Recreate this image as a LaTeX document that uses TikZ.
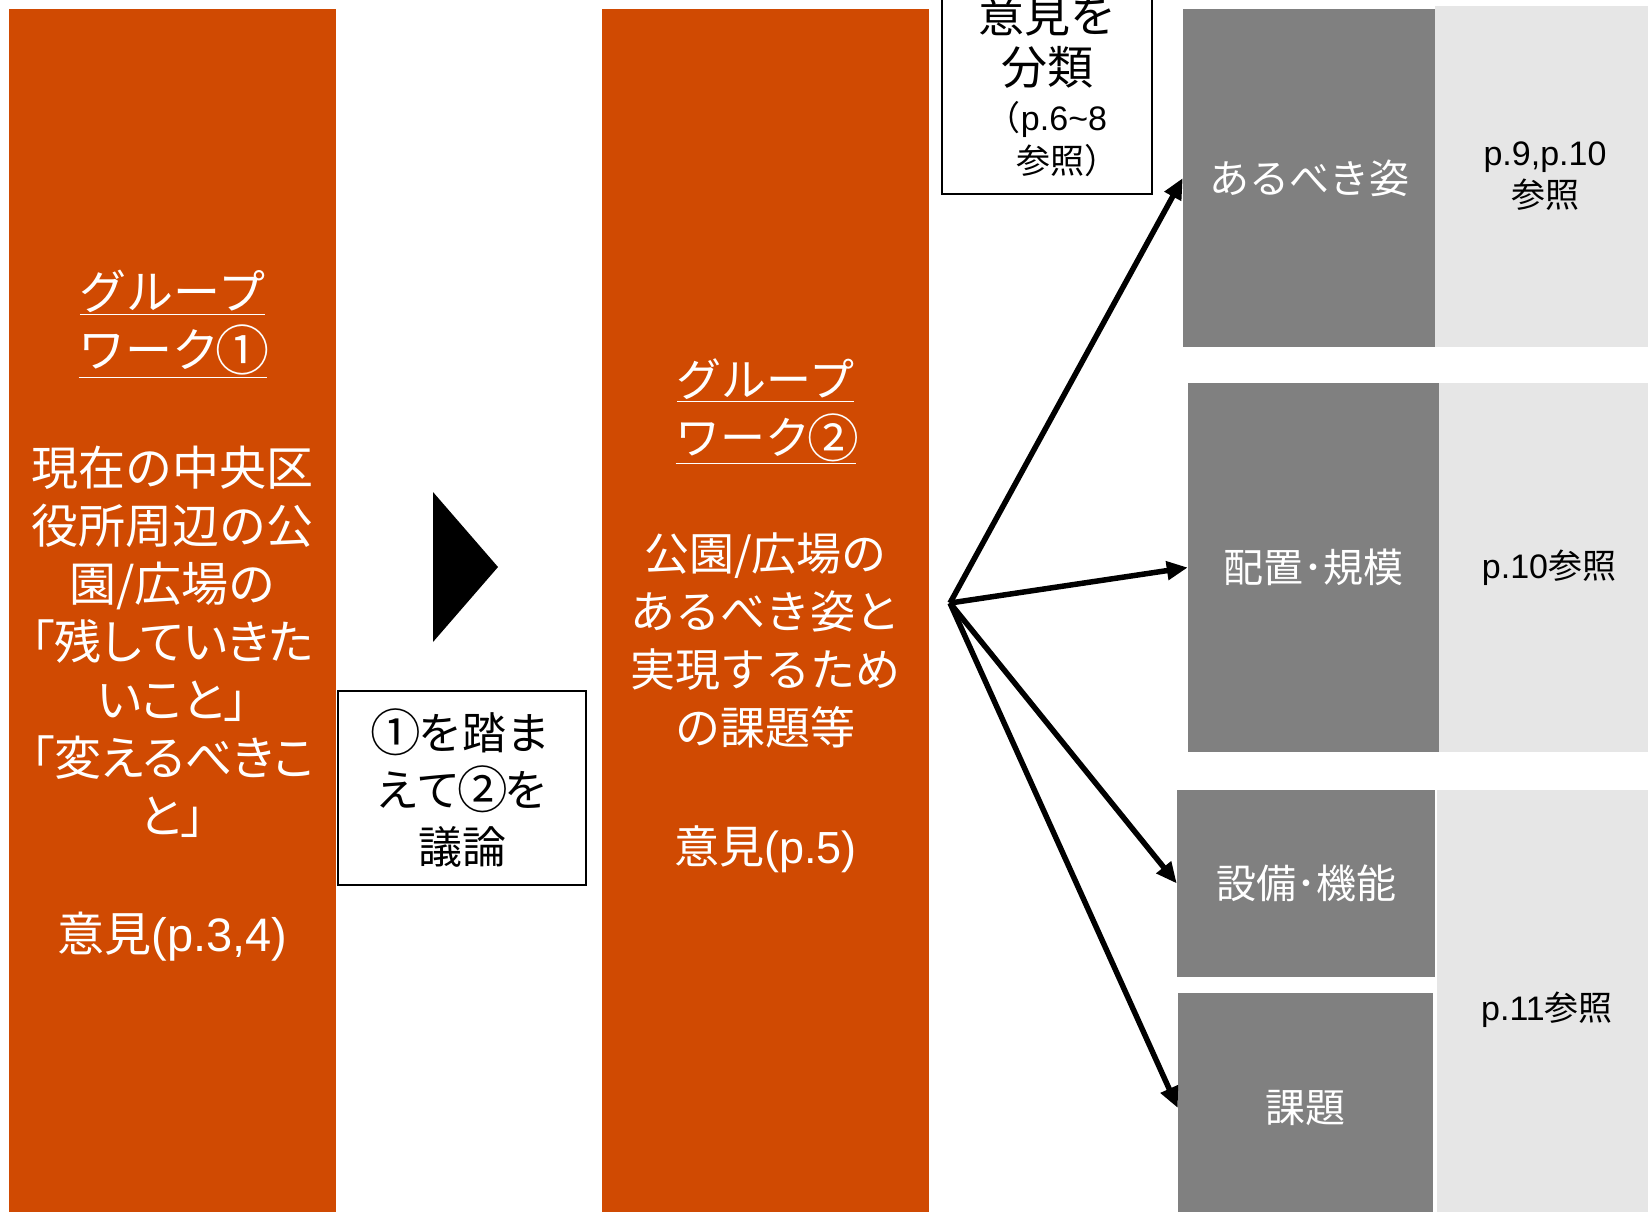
\documentclass[tikz,border=0pt]{standalone}
\usepackage{fontspec}
\usepackage{graphicx}
\setmainfont{Noto Sans CJK JP}
\newfontfamily\lat{Liberation Sans}
\newfontfamily\jpp{Noto Sans CJK JP}[RawFeature=+palt]
\newcommand\circnum[1]{\makebox[1em]{\raisebox{-0.06em}{\scalebox{1.15}{#1}}}}
\usetikzlibrary{arrows.meta}
\definecolor{workorange}{HTML}{D04A02}
\definecolor{topicgray}{HTML}{808080}
\definecolor{refgray}{HTML}{E6E6E6}
\tikzset{workbox/.style={fill=workorange, text=white, inner sep=0pt, align=center, minimum width=327pt, minimum height=1214pt}}
\tikzset{notebox/.style={draw, line width=1.2pt, fill=white, inner sep=0pt, align=center}}
\tikzset{topicbox/.style={fill=topicgray, text=white, inner sep=0pt, align=center, font=\fontsize{40}{48}\selectfont}}
\tikzset{refbox/.style={fill=refgray, inner sep=0pt, align=center, minimum width=220pt, font=\fontsize{34}{42}\selectfont}}
\tikzset{branch/.style={-{Triangle[length=21pt,width=18pt]}, line width=5.5pt}}

\begin{document}
\begin{tikzpicture}[x=1pt,y=-1pt]
    \useasboundingbox (0,0) rectangle (1648,1211);
    \clip (0,0) rectangle (1648,1211);
    % the two group works
    \node [workbox, font=\fontsize{47}{58}\selectfont] (gw1) at (172.5,616)
        {\underline{グループ}\\\underline{ワーク\circnum{①}}\\[60pt]現在の中央区\\役所周辺の公\\園/広場の\\{\jpp 「残していきた}\\{\jpp いこと」}\\{\jpp 「変えるべきこ}\\{\jpp と」}\\[60pt]意見{\lat (p.3,4)}};
    \node [workbox, font=\fontsize{45}{58}\selectfont] (gw2) at (765.5,616)
        {\underline{グループ}\\\underline{ワーク\circnum{②}}\\[58pt]公園/広場の\\あるべき姿と\\実現するため\\の課題等\\[61pt]意見{\lat (p.5)}};
    \fill (433,492) -- (498,567) -- (433,642) -- cycle;
    \node [notebox, minimum width=248pt, minimum height=194pt, font=\fontsize{44}{57}\selectfont] (discuss) at (462,788)
        {\circnum{①}を踏ま\\えて\circnum{②}を\\議論};
    \node [notebox, minimum width=210pt, minimum height=218pt, font=\fontsize{46}{52}\selectfont] (sortnote) at (1047,85)
        {意見を\\分類\\[-6pt]{\fontsize{34}{43}\selectfont （{\lat p.6\textasciitilde8}\hspace{36pt}}\\[-9pt]{\fontsize{34}{43}\selectfont \hspace{40pt}参照）}};
    % topics and references
    \node [refbox, minimum height=341pt] (ref1) at (1545,176.5) {{\lat p.9,p.10}\\参照};
    \node [refbox, minimum height=369pt] (ref2) at (1549,567.5) {{\lat p.10}参照};
    \node [refbox, minimum height=440pt] (ref3) at (1547,1010) {{\lat p.11}参照};
    \node [topicbox, minimum width=252pt, minimum height=338pt] (topic1) at (1309,178) {あるべき姿};
    \node [topicbox, minimum width=251pt, minimum height=369pt] (topic2) at (1313.5,567.5) {配置{\jpp ･}規模};
    \node [topicbox, minimum width=258pt, minimum height=187pt] (topic3) at (1306,883.5) {設備{\jpp ･}機能};
    \node [topicbox, minimum width=255pt, minimum height=230pt] (topic4) at (1305.5,1108) {課題};
    \coordinate (hub) at (950,603);
    \foreach \t in {topic1,topic2,topic3,topic4} {
        \draw [branch] (hub) -- (\t.west);
    }
\end{tikzpicture}
\end{document}
